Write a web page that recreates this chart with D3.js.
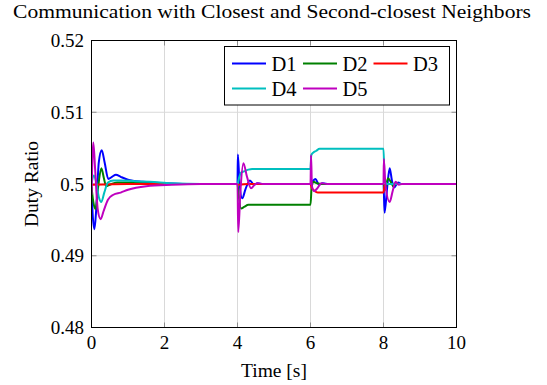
<!DOCTYPE html>
<html>
<head>
<meta charset="utf-8">
<script src="https://cdn.jsdelivr.net/npm/d3@7"></script>
<style>
  body { margin: 0; background: #fff; }
  text { font-family: "Liberation Serif", "DejaVu Serif", serif; fill: #000; }
</style>
</head>
<body>
<script>
// series data: [time (s), duty ratio]
const d1 = [[0,0.5],[0.03,0.4960],[0.08,0.4937],[0.13,0.4965],[0.2,0.5030],[0.28,0.5047],[0.36,0.5030],[0.46,0.5007],[0.56,0.5010],[0.67,0.5013],[0.8,0.5010],[1.0,0.5006],[1.4,0.5003],[2.0,0.5001],[2.6,0.5],
  [4.0,0.5],[4.01,0.5041],[4.05,0.5005],[4.13,0.4980],[4.22,0.4993],[4.34,0.5005],[4.45,0.4999],[4.55,0.5001],[4.7,0.5],
  [6.0,0.5],[6.06,0.5004],[6.14,0.5007],[6.23,0.4999],[6.33,0.5001],[6.5,0.5],
  [8.0,0.5],[8.03,0.4960],[8.1,0.4995],[8.17,0.5022],[8.23,0.5005],[8.29,0.4995],[8.4,0.5002],[8.5,0.5],[10,0.5]];
const d2 = [[0,0.4996],[0.05,0.4975],[0.11,0.4965],[0.18,0.4995],[0.27,0.5022],[0.34,0.5008],[0.4,0.4997],[0.5,0.4999],[0.7,0.5002],[1.0,0.5002],[1.5,0.5001],[2.2,0.5],
  [4.0,0.5],[4.03,0.4985],[4.1,0.4966],[4.18,0.4968],[4.3,0.4971],[6.0,0.4971],
  [6.03,0.4995],[6.08,0.5003],[6.18,0.5001],[6.3,0.5],
  [8.0,0.5],[8.05,0.4992],[8.12,0.5008],[8.2,0.5003],[8.27,0.4997],[8.35,0.5001],[8.45,0.5],[10,0.5]];
const d3s = [[0,0.4999],[1.0,0.5],[4.0,0.5],[4.05,0.4999],[4.3,0.5],
  [6.0,0.5],[6.03,0.4995],[6.1,0.4991],[6.2,0.4988],[8.0,0.4988],
  [8.03,0.4998],[8.1,0.5],[10,0.5]];
const d4 = [[0,0.5],[0.06,0.5012],[0.12,0.5005],[0.2,0.4982],[0.27,0.4975],[0.35,0.4988],[0.45,0.5002],[0.6,0.5005],[0.8,0.5005],[1.2,0.5004],[1.6,0.5003],[2.2,0.5001],[3.0,0.5],
  [4.0,0.5],[4.04,0.5008],[4.1,0.5016],[4.2,0.5018],[4.3,0.5020],[4.4,0.5021],[6.0,0.5021],
  [6.02,0.5040],[6.08,0.5044],[6.15,0.5046],[6.25,0.5049],[8.0,0.5049],
  [8.03,0.5005],[8.1,0.5],[10,0.5]];
const d5 = [[0,0.4985],[0.05,0.5058],[0.1,0.5020],[0.17,0.4965],[0.25,0.4951],[0.33,0.4962],[0.45,0.4978],[0.6,0.4985],[0.8,0.4988],[1.0,0.4992],[1.5,0.4997],[2.2,0.4999],[3.0,0.5],
  [4.0,0.5],[4.02,0.4933],[4.08,0.4990],[4.16,0.5029],[4.26,0.5010],[4.37,0.4994],[4.47,0.4999],[4.55,0.5001],[4.7,0.5],
  [6.0,0.5],[6.015,0.5040],[6.04,0.4997],[6.1,0.4990],[6.17,0.4993],[6.3,0.5001],[6.45,0.5],
  [8.0,0.5],[8.01,0.5035],[8.05,0.5000],[8.17,0.4975],[8.25,0.4990],[8.33,0.5003],[8.42,0.4999],[8.5,0.5],[10,0.5]];

const seriesNames = ['D1', 'D2', 'D3', 'D4', 'D5'];
const seriesData = [d1, d2, d3s, d4, d5];
const seriesColors = ['#0000ff', '#008000', '#ff0000', '#00bfbf', '#bf00bf'];

const xTicks = [0, 2, 4, 6, 8, 10];
const yTicks = [0.48, 0.49, 0.5, 0.51, 0.52];

const W = 547, H = 385;
const plot = { left: 91.5, right: 456.5, top: 40.5, bottom: 327.5 };

const svg = d3.select('body').append('svg')
  .attr('width', W)
  .attr('height', H);

const x = d3.scaleLinear().domain([0, 10]).range([plot.left, plot.right]);
const y = d3.scaleLinear().domain([0.48, 0.52]).range([plot.bottom, plot.top]);

// grid
const grid = svg.append('g').attr('stroke', '#d9d9d9').attr('stroke-width', 1);
grid.selectAll('line.gx').data(xTicks).enter().append('line')
  .attr('x1', d => x(d)).attr('x2', d => x(d))
  .attr('y1', plot.top).attr('y2', plot.bottom);
grid.selectAll('line.gy').data(yTicks).enter().append('line')
  .attr('x1', plot.left).attr('x2', plot.right)
  .attr('y1', d => y(d)).attr('y2', d => y(d));

// inner tick marks on all sides
const tickLen = 5;
const ticks = svg.append('g').attr('stroke', '#8c8c8c').attr('stroke-width', 1);
xTicks.forEach(t => {
  ticks.append('line').attr('x1', x(t)).attr('x2', x(t)).attr('y1', plot.bottom).attr('y2', plot.bottom - tickLen);
  ticks.append('line').attr('x1', x(t)).attr('x2', x(t)).attr('y1', plot.top).attr('y2', plot.top + tickLen);
});
yTicks.forEach(t => {
  ticks.append('line').attr('x1', plot.left).attr('x2', plot.left + tickLen).attr('y1', y(t)).attr('y2', y(t));
  ticks.append('line').attr('x1', plot.right).attr('x2', plot.right - tickLen).attr('y1', y(t)).attr('y2', y(t));
});

// series
svg.append('clipPath').attr('id', 'clip')
  .append('rect')
  .attr('x', plot.left).attr('y', plot.top)
  .attr('width', plot.right - plot.left).attr('height', plot.bottom - plot.top);

const line = d3.line()
  .x(d => x(d[0]))
  .y(d => y(d[1]))
  .curve(d3.curveMonotoneX);

svg.append('g').attr('clip-path', 'url(#clip)')
  .selectAll('path')
  .data(seriesData)
  .enter()
  .append('path')
  .attr('d', d => line(d))
  .attr('fill', 'none')
  .attr('stroke', (d, i) => seriesColors[i])
  .attr('stroke-width', 2)
  .attr('stroke-linejoin', 'round');

// frame
svg.append('rect')
  .attr('x', plot.left).attr('y', plot.top)
  .attr('width', plot.right - plot.left).attr('height', plot.bottom - plot.top)
  .attr('fill', 'none').attr('stroke', '#000').attr('stroke-width', 1);

// tick labels
svg.selectAll('text.xt').data(xTicks).enter().append('text')
  .attr('x', d => x(d)).attr('y', 349)
  .attr('text-anchor', 'middle')
  .style('font-size', '19px')
  .text(d => d);
svg.selectAll('text.yt').data(yTicks).enter().append('text')
  .attr('x', 84).attr('y', d => y(d) + 6.5)
  .attr('text-anchor', 'end')
  .style('font-size', '19px')
  .text(d => String(+d.toFixed(2)));

// labels
svg.append('text')
  .attr('x', 272).attr('y', 17.5)
  .attr('text-anchor', 'middle')
  .attr('textLength', 518)
  .attr('lengthAdjust', 'spacingAndGlyphs')
  .style('font-size', '18.5px')
  .text('Communication with Closest and Second-closest Neighbors');
svg.append('text')
  .attr('x', (plot.left + plot.right) / 2).attr('y', 377)
  .attr('text-anchor', 'middle')
  .style('font-size', '19.5px')
  .text('Time [s]');
svg.append('text')
  .attr('transform', 'translate(38,' + (plot.top + plot.bottom) / 2 + ') rotate(-90)')
  .attr('text-anchor', 'middle')
  .style('font-size', '19.5px')
  .text('Duty Ratio');

// legend
const legend = svg.append('g');
legend.append('rect')
  .attr('x', 224.5).attr('y', 46.5).attr('width', 225).attr('height', 58.5)
  .attr('fill', '#fff').attr('stroke', '#000').attr('stroke-width', 1);
const legendPos = [[232, 63.5], [303, 63.5], [373.5, 63.5], [232, 88.5], [303, 88.5]];
seriesNames.forEach((name, i) => {
  const [lx, ly] = legendPos[i];
  legend.append('line')
    .attr('x1', lx).attr('x2', lx + 34).attr('y1', ly).attr('y2', ly)
    .attr('stroke', seriesColors[i]).attr('stroke-width', 2);
  legend.append('text')
    .attr('x', lx + 39.5).attr('y', ly + 7)
    .style('font-size', '20.5px')
    .text(name);
});
</script>
</body>
</html>
